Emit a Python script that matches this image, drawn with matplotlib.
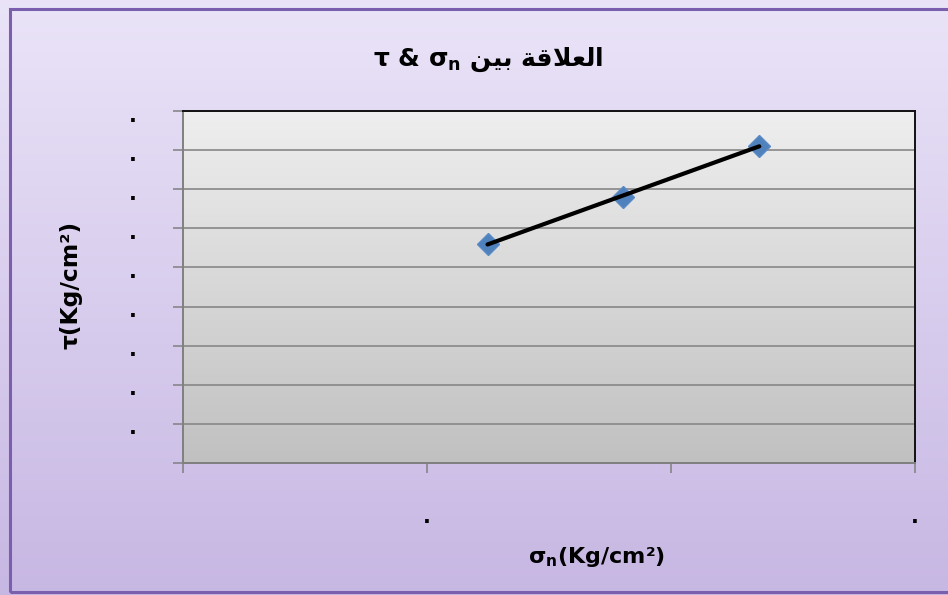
import numpy as np
import matplotlib
matplotlib.use("Agg")
import matplotlib.pyplot as plt
from matplotlib.patches import Rectangle

plt.rcParams['font.family'] = ['DejaVu Sans']
plt.rcParams['mathtext.fontset'] = 'dejavusans'

# shear test readings
sigma_n = [0.624, 0.901, 1.181]   # Kg/cm2
tau = [0.560, 0.681, 0.811]       # Kg/cm2

x_ticks = [0.0, 0.5, 1.0, 1.5]
x_ticklabels = ['', '.', '', '.']
y_ticks = [0.0, 0.1, 0.2, 0.3, 0.4, 0.5, 0.6, 0.7, 0.8, 0.9]
y_ticklabels = [''] + ['.'] * 9

# Arabic words written in presentation forms, in drawing order
ar_bayn = '\uFEE6\uFEF4\uFE91'                          # بين
ar_alalaqa = '\uFE94\uFED7\uFEFC\uFECC\uFEDF\uFE8D'     # العلاقة
title_txt = 'τ & σ$_\\mathbf{n}$ ' + ar_bayn + ' ' + ar_alalaqa

W, H = 948, 595
fig = plt.figure(figsize=(W / 100, H / 100), dpi=100)

# lavender background with purple frame
bg = fig.add_axes([0, 0, 1, 1], zorder=-10)
grad = np.linspace(0, 1, 256).reshape(-1, 1)
top_c = np.array([0.918, 0.894, 0.973])
bot_c = np.array([0.780, 0.718, 0.890])
bg.imshow(top_c + (bot_c - top_c) * grad[:, :, None], aspect='auto',
          extent=[0, 1, 0, 1], origin='upper')
bg.set_xlim(0, 1)
bg.set_ylim(0, 1)
bg.axis('off')
bg.add_patch(Rectangle((9.5 / W, 3 / H), 1.2, (H - 3 - 8.5) / H,
                       fill=False, ec='#7b5fae', lw=2.2, clip_on=False))

ax = fig.add_axes([183 / W, (H - 463) / H, 732 / W, 352 / H])
ax.set_xlim(0, 1.5)
ax.set_ylim(0, 0.9)

# grey gradient plot area
p_top = np.array([0.935, 0.935, 0.935])
p_bot = np.array([0.755, 0.755, 0.755])
ax.imshow(p_top + (p_bot - p_top) * grad[:, :, None], aspect='auto',
          extent=[0, 1.5, 0, 0.9], origin='upper', zorder=0)

# y tick labels drawn by hand so the dots sit a bit under each gridline
ax.set_yticks(y_ticks)
ax.tick_params(axis='y', length=7, width=1.1, color='#808080', labelleft=False)
for v, lab in zip(y_ticks, y_ticklabels):
    ax.annotate(lab, xy=(0, v), xycoords=('axes fraction', 'data'),
                xytext=(-33, -3.3), textcoords='offset points',
                ha='right', va='center', fontsize=15, fontweight='bold',
                annotation_clip=False)

ax.set_xticks(x_ticks)
ax.set_xticklabels(x_ticklabels, fontsize=15, fontweight='bold')
ax.tick_params(axis='x', length=7, width=1.1, color='#808080', pad=25)
ax.grid(axis='y', color='#878787', lw=1.2, zorder=1)
ax.set_axisbelow(True)

for s in ['left', 'bottom']:
    ax.spines[s].set_color('#808080')
    ax.spines[s].set_linewidth(1.4)
for s in ['top', 'right']:
    ax.spines[s].set_color('#111111')
    ax.spines[s].set_linewidth(1.4)

# data points and linear trend
ax.plot(sigma_n, tau, linestyle='none', marker='D', ms=11,
        color='#4f81bd', mec='#5a8ac6', zorder=3)
coef = np.polyfit(sigma_n, tau, 1)
xs = np.array([sigma_n[0], sigma_n[-1]])
ax.plot(xs, np.polyval(coef, xs), color='black', lw=3.0,
        solid_capstyle='round', zorder=4)

ax.set_xlabel('σ$_\\mathbf{n}$(Kg/cm²)', fontsize=16, fontweight='bold')
ax.xaxis.set_label_coords((597 - 183) / 732, (463 - 557) / 352)
ax.xaxis.label.set_va('center')
ax.set_ylabel('τ(Kg/cm²)', fontsize=16.8, fontweight='bold')
ax.yaxis.set_label_coords((71 - 183) / 732, (463 - 285) / 352)
ax.yaxis.label.set_va('center')

fig.text(488 / W, 1 - 60 / H, title_txt, ha='center', va='center',
         fontsize=18, fontweight='bold')

fig.savefig('out.png', dpi=100)
